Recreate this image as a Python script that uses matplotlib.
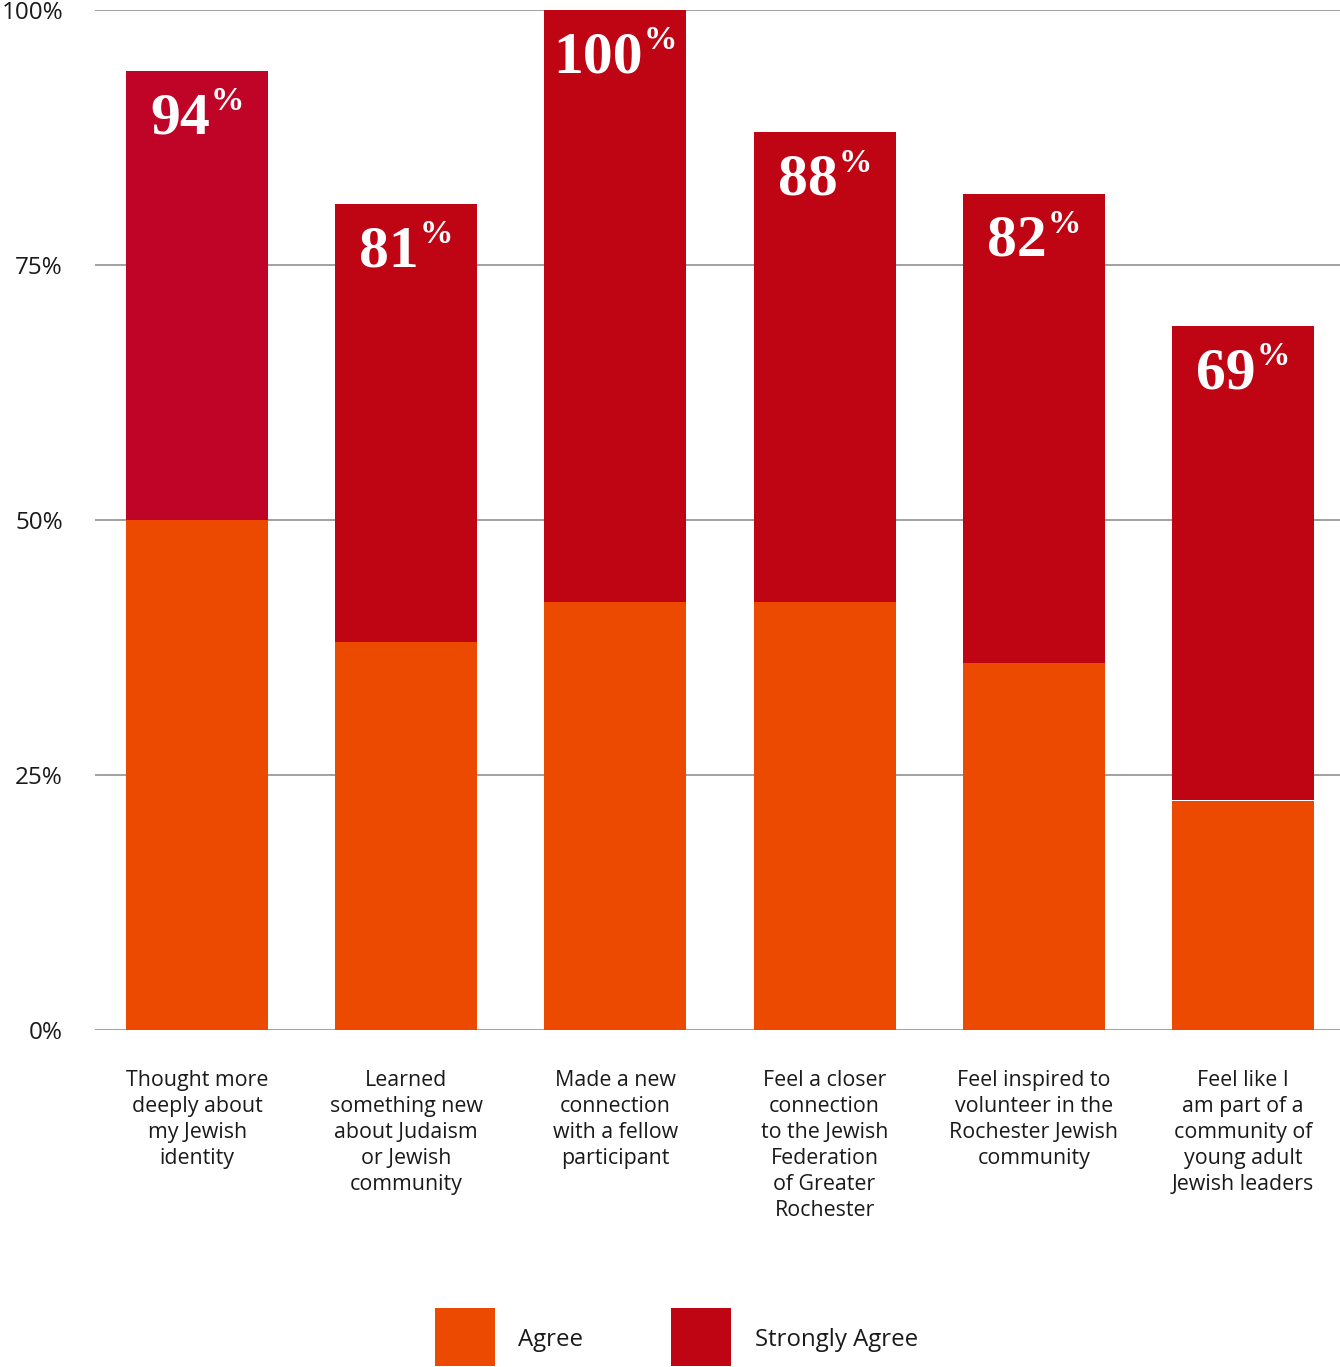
import matplotlib
matplotlib.use("Agg")
import matplotlib.pyplot as plt
from matplotlib.patches import Rectangle
from matplotlib.transforms import offset_copy
import numpy as np

categories = [
    "Thought more\ndeeply about\nmy Jewish\nidentity",
    "Learned\nsomething new\nabout Judaism\nor Jewish\ncommunity",
    "Made a new\nconnection\nwith a fellow\nparticipant",
    "Feel a closer\nconnection\nto the Jewish\nFederation\nof Greater\nRochester",
    "Feel inspired to\nvolunteer in the\nRochester Jewish\ncommunity",
    "Feel like I\nam part of a\ncommunity of\nyoung adult\nJewish leaders",
]
agree = [50, 38, 42, 42, 36, 22.5]
total = [94, 81, 100, 88, 82, 69]
strongly_agree = [t - a for t, a in zip(total, agree)]
y_ticks = [0, 25, 50, 75, 100]
y_tick_labels = ["0%", "25%", "50%", "75%", "100%"]

ORANGE = "#EC4A00"
RED = "#BF0414"
RED_FIRST = "#C00428"
GRID = "#9a9a9a"
TEXT = "#1a1a1a"

W, H = 1340, 1367
DPI = 100
fig = plt.figure(figsize=(W / DPI, H / DPI), dpi=DPI)
ax = fig.add_axes([95 / W, 1 - 1030 / H, 1 - 95 / W, (1030 - 10) / H])

x = np.arange(len(categories))
bar_w = 0.679
sa_colors = [RED_FIRST] + [RED] * (len(categories) - 1)
ax.bar(x, agree, width=bar_w, color=ORANGE, zorder=2, linewidth=0)
ax.bar(x, strongly_agree, bottom=agree, width=bar_w, color=sa_colors, zorder=2, linewidth=0)

ax.set_xlim(-0.488, 5.464)
ax.set_ylim(0, 100)
ax.set_yticks(y_ticks)
ax.set_yticklabels(y_tick_labels, fontsize=17.5, family="Open Sans", color=TEXT)
ax.yaxis.grid(True, color=GRID, linewidth=1.3, zorder=0)
ax.set_axisbelow(True)
ax.tick_params(axis="y", length=0, pad=23)
ax.set_xticks(x)
ax.set_xticklabels(categories, fontsize=15.4, family="Open Sans", color=TEXT,
                   linespacing=1.31, va="top")
ax.tick_params(axis="x", length=0, pad=29)
for s in ax.spines.values():
    s.set_visible(False)

# value labels: bold number with a small raised percent sign
renderer = fig.canvas.get_renderer()
for xi, t in zip(x, total):
    y = t - 6.1
    tn = ax.text(xi, y, str(t), fontsize=43, fontweight="bold", family="Liberation Serif",
                 color="white", ha="left", va="baseline", zorder=3)
    tp = ax.text(xi, y, "%", fontsize=24, fontweight="bold", family="Liberation Serif",
                 color="white", ha="left", va="baseline", zorder=3)
    wn = tn.get_window_extent(renderer).width
    wp = tp.get_window_extent(renderer).width
    gap = 1
    start = -(wn + gap + wp) / 2
    tn.set_transform(offset_copy(ax.transData, fig=fig, x=start, y=0, units="dots"))
    tp.set_transform(offset_copy(ax.transData, fig=fig, x=start + wn + gap, y=23, units="dots"))

# legend
def px_rect(x0, y0, w, h, color):
    fig.add_artist(Rectangle((x0 / W, 1 - (y0 + h) / H), w / W, h / H,
                             transform=fig.transFigure, color=color, linewidth=0))

px_rect(435, 1308, 60, 58, ORANGE)
fig.text(518 / W, 1 - 1340 / H, "Agree", fontsize=17.3, family="Open Sans", color=TEXT,
         ha="left", va="center")
px_rect(671, 1308, 60, 58, RED)
fig.text(755 / W, 1 - 1340 / H, "Strongly Agree", fontsize=17.3, family="Open Sans", color=TEXT,
         ha="left", va="center")

fig.savefig("out.png", dpi=DPI, facecolor="white")
